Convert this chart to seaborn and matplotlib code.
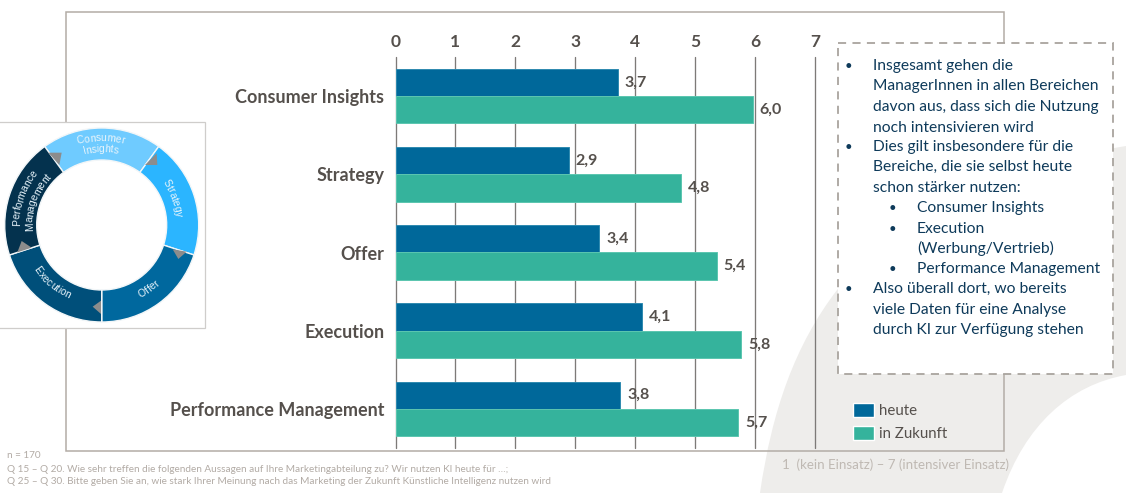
import numpy as np
import pandas as pd
import matplotlib as mpl
mpl.use('Agg')
import matplotlib.pyplot as plt
from matplotlib.patches import Rectangle, PathPatch, Polygon
from matplotlib.path import Path
from matplotlib.textpath import TextPath
from matplotlib.font_manager import FontProperties
import seaborn as sns

# values (bar lengths), printed labels kept apart
bereiche = ['Consumer Insights', 'Strategy', 'Offer', 'Execution', 'Performance Management']
heute = [3.71, 2.89, 3.40, 4.11, 3.75]
zukunft = [5.96, 4.76, 5.36, 5.77, 5.72]
heute_labels = ['3,7', '2,9', '3,4', '4,1', '3,8']
zukunft_labels = ['6,0', '4,8', '5,4', '5,8', '5,7']
x_ticks = [0, 1, 2, 3, 4, 5, 6, 7]

ring_parts = [1, 1, 1, 1, 1]
ring_colors = ['#6fcbff', '#2bb5ff', '#00689e', '#004f7a', '#04324e']

box_lines = [
    (0, 'Insgesamt gehen die'),
    (-1, 'ManagerInnen in allen Bereichen'),
    (-1, 'davon aus, dass sich die Nutzung'),
    (-1, 'noch intensivieren wird'),
    (0, 'Dies gilt insbesondere für die'),
    (-1, 'Bereiche, die sie selbst heute'),
    (-1, 'schon stärker nutzen:'),
    (1, 'Consumer Insights'),
    (1, 'Execution'),
    (-2, '(Werbung/Vertrieb)'),
    (1, 'Performance Management'),
    (0, 'Also überall dort, wo bereits'),
    (-1, 'viele Daten für eine Analyse'),
    (-1, 'durch KI zur Verfügung stehen'),
]
box_y = [66, 86, 107, 128, 147, 167, 188, 208, 229, 248, 269, 289, 310, 330]

footer = ['n = 170',
          'Q 15 – Q 20. Wie sehr treffen die folgenden Aussagen auf Ihre Marketingabteilung zu? Wir nutzen KI heute für …;',
          'Q 25 – Q 30. Bitte geben Sie an, wie stark Ihrer Meinung nach das Marketing der Zukunft Künstliche Intelligenz nutzen wird']

W, H = 1126, 493
TXT = '#55504c'

sns.set_theme(style='white')
plt.rcParams['font.family'] = ['Lato', 'DejaVu Sans']

fig = plt.figure(figsize=(W / 100, H / 100), dpi=100, facecolor='white')


def px_axes(x0, y0, x1, y1, z):
    # axes from pixel box, y counted from the top
    a = fig.add_axes([x0 / W, 1 - y1 / H, (x1 - x0) / W, (y1 - y0) / H], zorder=z)
    a.patch.set_alpha(0)
    return a


# background layer in pixel coordinates
bg = px_axes(0, 0, W, H, 0)
bg.set_xlim(0, W)
bg.set_ylim(H, 0)
bg.axis('off')

swoosh = Path(
    [(760, 493), (772, 410), (795, 345), (837, 290),
     (900, 215), (1010, 165), (1126, 146),
     (1126, 375),
     (1070, 385), (1025, 425), (1002, 493),
     (760, 493)],
    [Path.MOVETO, Path.CURVE4, Path.CURVE4, Path.CURVE4,
     Path.CURVE4, Path.CURVE4, Path.CURVE4,
     Path.LINETO,
     Path.CURVE4, Path.CURVE4, Path.CURVE4,
     Path.CLOSEPOLY])
bg.add_patch(PathPatch(swoosh, fc='#eeedeb', ec='none'))
bg.add_patch(Rectangle((66, 12), 938, 439, fc='none', ec='#b3aca6', lw=1.1))

bg.text(7, 455, footer[0], fontsize=7.2, color='#b2aba5', va='center')
bg.text(7, 469, footer[1], fontsize=7.2, color='#b2aba5', va='center')
bg.text(7, 482, footer[2], fontsize=7.2, color='#b2aba5', va='center')
bg.text(782, 465, '1  (kein Einsatz) – 7 (intensiver Einsatz)', fontsize=9.6,
        color='#bfb9b3', va='center')

# main chart
df = pd.DataFrame({
    'bereich': bereiche * 2,
    'wert': heute + zukunft,
    'zeit': ['heute'] * len(heute) + ['in Zukunft'] * len(zukunft),
})

ax = px_axes(395.5, 57, 815, 448, 1)
sns.barplot(data=df, y='bereich', x='wert', hue='zeit', orient='h',
            palette=['#00689a', '#35b39c'], width=0.7, gap=0, saturation=1, ax=ax)
ax.set_xlim(0, 7)
ax.set_ylim(4.5, -0.5)
ax.set_xlabel('')
ax.set_ylabel('')
ax.xaxis.tick_top()
ax.set_xticks(x_ticks)
ax.tick_params(axis='x', length=0, pad=5, labelsize=12.5, labelcolor=TXT)
ax.tick_params(axis='y', length=0, pad=8, labelsize=13, labelcolor=TXT)
for lab in ax.get_xticklabels() + ax.get_yticklabels():
    lab.set_fontweight('bold')
ax.grid(axis='x', color='#7d7a78', lw=0.95)
ax.grid(axis='y', visible=False)
for gl in ax.get_xgridlines():
    gl.set_clip_on(False)
ax.set_axisbelow(True)
for s in ax.spines.values():
    s.set_visible(False)

edges = ['#2f8ab0', '#5cc6b0']
for cont, labs, ec in zip(ax.containers, [heute_labels, zukunft_labels], edges):
    for bar in cont:
        bar.set_edgecolor(ec)
        bar.set_linewidth(0.7)
    ax.bar_label(cont, labels=labs, padding=5,
                 fontsize=11.5, fontweight='bold', color=TXT, clip_on=False)

leg = ax.legend(loc='lower left', bbox_to_anchor=(853 / W, 1 - 441 / H),
                bbox_transform=fig.transFigure, frameon=False, fontsize=10.8,
                labelcolor=TXT, handlelength=1.4, handleheight=1.05, handletextpad=0.35,
                labelspacing=0.55, borderpad=0, borderaxespad=0, title=None)

# overlay with card and text box
top = px_axes(0, 0, W, H, 2)
top.set_xlim(0, W)
top.set_ylim(H, 0)
top.axis('off')
top.add_patch(Rectangle((-2, 122), 207, 206, fc='white', ec='#cfcdcb', lw=0.9))
top.add_patch(Rectangle((838, 43), 275, 331, fc='white', ec='#a9a49e', lw=1.3, ls=(0, (4.5, 3.5))))

TXT_BOX = '#0e3a5a'
for (lev, line), y in zip(box_lines, box_y):
    if lev == 0:
        top.text(848, y, '•', fontsize=9.5, color=TXT_BOX, va='center', ha='center')
    if lev == 1:
        top.text(892, y, '•', fontsize=9.5, color=TXT_BOX, va='center', ha='center')
    tx = 917 if lev in (1, -2) else 873
    top.text(tx, y, line, fontsize=11.25, color=TXT_BOX, va='center')

# ring graphic
cx, cy, r_out = 101.7, 225, 97
ring = px_axes(cx - r_out * 1.02, cy - r_out * 1.02, cx + r_out * 1.02, cy + r_out * 1.02, 3)
ring.pie(ring_parts, colors=ring_colors, startangle=126, counterclock=False, radius=1,
         wedgeprops={'width': 0.33, 'edgecolor': '#f2f6f8', 'linewidth': 1})
ring.set_xlim(-1.02, 1.02)
ring.set_ylim(-1.02, 1.02)


def to_ring(px, py):
    # zoom crop position to ring units
    return ((px / 3 - cx) / r_out, (110 + py / 3 - cy) * -1 / r_out)


for tri in [[(145, 128), (185, 128), (178, 165)],
            [(435, 165), (470, 130), (472, 165)],
            [(518, 418), (560, 425), (535, 447)],
            [(303, 572), (303, 612), (278, 590)],
            [(52, 427), (65, 393), (95, 413)]]:
    ring.add_patch(Polygon([to_ring(*p) for p in tri], fc='#8c8c8c', ec='none'))

ring_font = FontProperties(family='Liberation Sans')


def arc_text(word, radius_px, mid_deg, clockwise=True, size=7.4):
    # lay the letters out along the ring
    size_px = size * 100 / 72
    adv = lambda s: TextPath((0, 0), s + '|', size=size_px, prop=ring_font).get_extents().width
    bar = TextPath((0, 0), '|', size=size_px, prop=ring_font).get_extents().width
    total = adv(word) - bar
    sign = -1 if clockwise else 1
    for i, ch in enumerate(word):
        pos = adv(word[:i]) - bar + (adv(ch) - bar) / 2 - total / 2
        th = mid_deg + sign * np.degrees(pos / radius_px)
        rot = th - 90 if clockwise else th + 90
        ring.text(radius_px / r_out * np.cos(np.radians(th)), radius_px / r_out * np.sin(np.radians(th)),
                  ch, fontsize=size, family='Liberation Sans', color='#e8f4fb',
                  rotation=rot, rotation_mode='anchor', ha='center', va='center')


arc_text('Consumer', 87, 91)
arc_text('Insights', 76, 91)
arc_text('Strategy', 77, 21)
arc_text('Offer', 80, -54, clockwise=False)
arc_text('Execution', 78, 229, clockwise=False)
arc_text('Performance', 85, 161)
arc_text('Management', 72, 161)

fig.savefig('out.png', dpi=100)
